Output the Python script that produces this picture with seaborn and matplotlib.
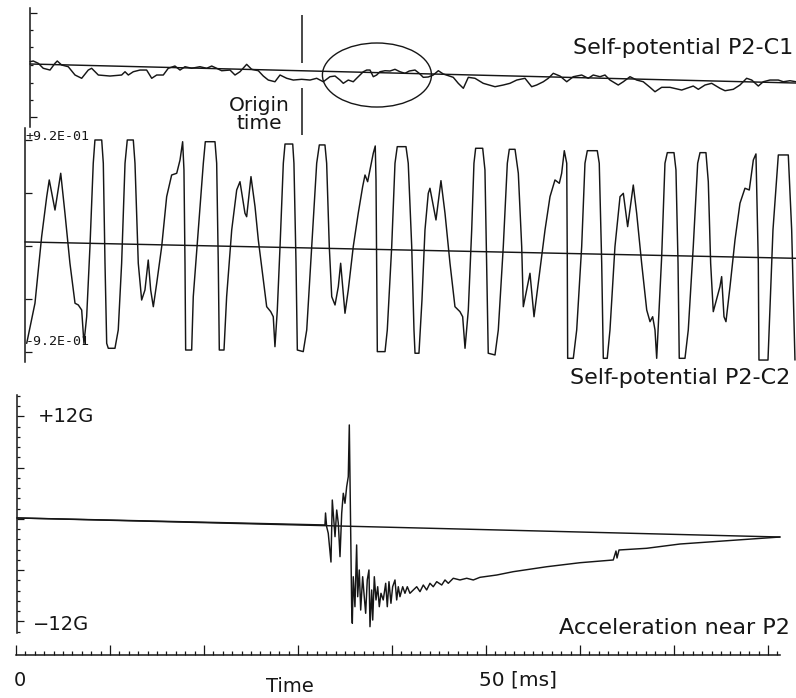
import numpy as np
import pandas as pd
import matplotlib
matplotlib.use("Agg")
import matplotlib.pyplot as plt
from matplotlib.patches import Ellipse
from matplotlib.ticker import MultipleLocator, FixedLocator
import seaborn as sns

# --- Werte (Zeit in ms) ---

# Self-potential P2-C1 (obere Spur)
P1_T = [1.49, 1.84, 2.37, 2.90, 3.62, 4.15, 4.39, 4.86, 5.56, 6.28, 6.99, 7.69, 8.05, 8.76,
        10.00, 11.24, 11.60, 11.95, 12.48, 13.19, 13.90, 14.44, 14.97, 15.67, 16.20, 16.91,
        17.45, 17.98, 18.69, 19.57, 20.29, 20.82, 21.35, 21.88, 22.77, 23.30, 23.83, 24.54,
        25.07, 25.78, 26.31, 26.84, 27.55, 28.09, 28.80, 29.50, 30.39, 31.28, 31.99, 32.69,
        33.40, 33.94, 34.47, 34.82, 35.35, 35.88, 36.24, 36.95, 37.31, 37.66, 38.01, 38.37,
        38.72, 39.26, 39.79, 40.32, 40.85, 41.38, 41.84, 42.45, 42.90, 43.33, 43.86, 44.39,
        44.93, 45.46, 46.52, 47.05, 47.59, 48.12, 48.83, 49.71, 50.96, 51.84, 52.55, 53.27,
        54.15, 54.86, 55.39, 56.10, 56.63, 57.16, 57.87, 58.59, 59.29, 60.18, 60.88, 61.41,
        62.13, 62.66, 63.19, 64.07, 64.61, 65.32, 66.03, 66.73, 67.45, 67.98, 68.69, 69.57,
        70.82, 72.05, 72.59, 73.30, 74.01, 74.89, 75.43, 76.31, 77.02, 77.73, 78.27, 78.97,
        79.50, 80.21, 81.10, 81.63, 82.34, 82.98]
P1_V = [0.058, 0.071, 0.030, -0.058, -0.089, 0.030, 0.071, 0.000, -0.030, -0.177, -0.235,
        -0.089, -0.058, -0.177, -0.195, -0.177, -0.119, -0.177, -0.119, -0.089, -0.089,
        -0.235, -0.177, -0.177, -0.058, -0.018, -0.089, -0.030, -0.058, -0.030, -0.058,
        -0.018, -0.058, -0.101, -0.089, -0.177, -0.119, 0.012, -0.076, -0.101, -0.195,
        -0.266, -0.296, -0.177, -0.235, -0.266, -0.253, -0.266, -0.235, -0.296, -0.207,
        -0.195, -0.266, -0.324, -0.266, -0.296, -0.235, -0.119, -0.089, -0.089, -0.207,
        -0.177, -0.119, -0.101, -0.106, -0.076, -0.119, -0.147, -0.106, -0.089, -0.147,
        -0.218, -0.212, -0.177, -0.101, -0.159, -0.218, -0.324, -0.412, -0.218, -0.235,
        -0.324, -0.384, -0.354, -0.324, -0.266, -0.235, -0.384, -0.354, -0.296, -0.235,
        -0.147, -0.195, -0.296, -0.207, -0.177, -0.235, -0.177, -0.207, -0.177, -0.266,
        -0.354, -0.296, -0.207, -0.266, -0.296, -0.395, -0.473, -0.395, -0.395, -0.443,
        -0.372, -0.430, -0.354, -0.324, -0.412, -0.455, -0.430, -0.354, -0.235, -0.266,
        -0.372, -0.296, -0.266, -0.266, -0.296, -0.278, -0.296]
P1_BASE_T = [1.49, 82.98]
P1_BASE_V = [0.018, -0.319]
P1_TICKS = [-0.92, -0.62, -0.31, 0.0, 0.31, 0.62, 0.92]

# Self-potential P2-C2 (mittlere Spur, Vollausschlag +-0.92)
P2_T = [1.14, 2.02, 2.73, 3.27, 3.54, 4.15, 4.76, 5.21, 5.74, 6.28, 6.63, 6.99, 7.23, 7.52,
        7.87, 8.22, 8.40, 9.12, 9.29, 9.47, 9.65, 9.82, 10.53, 10.88, 11.24, 11.60, 11.84,
        12.48, 12.66, 13.01, 13.37, 13.72, 14.07, 14.33, 14.61, 14.97, 15.50, 16.03, 16.56,
        17.10, 17.45, 17.73, 17.87, 17.98, 18.05, 18.69, 18.86, 19.39, 19.93, 20.14, 21.17,
        21.35, 21.52, 21.63, 22.13, 22.41, 22.95, 23.48, 23.83, 24.36, 24.54, 25.00, 25.43,
        25.78, 26.31, 26.67, 27.10, 27.37, 27.55, 27.80, 28.09, 28.44, 28.62, 29.44, 29.57,
        29.79, 29.93, 30.56, 30.93, 31.46, 31.99, 32.27, 32.87, 33.05, 33.33, 33.59, 33.94,
        34.29, 34.54, 34.76, 35.00, 35.35, 35.88, 36.41, 36.88, 37.13, 37.41, 37.66, 38.01,
        38.22, 38.30, 38.37, 38.44, 39.26, 39.50, 39.97, 40.32, 40.56, 41.49, 41.73, 42.10,
        42.34, 42.45, 42.87, 43.19, 43.51, 43.86, 44.04, 44.68, 45.21, 45.64, 46.17, 46.70,
        47.23, 47.52, 47.77, 48.12, 48.48, 48.72, 48.90, 49.65, 49.89, 50.07, 50.24, 50.96,
        51.31, 51.84, 52.27, 52.48, 53.09, 53.44, 53.80, 53.97, 54.68, 55.11, 55.74, 56.28,
        56.81, 57.34, 57.80, 58.05, 58.33, 58.59, 58.65, 58.69, 59.29, 59.65, 60.18, 60.53,
        60.78, 61.84, 62.05, 62.31, 62.48, 62.90, 63.19, 63.72, 64.26, 64.61, 65.07, 65.67,
        66.03, 66.56, 67.10, 67.45, 67.73, 67.98, 68.16, 68.69, 69.04, 69.29, 70.00, 70.21,
        70.43, 70.56, 71.17, 71.52, 72.05, 72.52, 72.77, 73.40, 73.65, 73.90, 74.18, 74.89,
        75.07, 75.32, 75.53, 75.96, 76.49, 77.02, 77.55, 78.01, 78.44, 78.72, 78.97, 79.04,
        80.00, 80.53, 81.10, 82.16, 82.52, 82.87]
P2_V = [-0.845, -0.497, 0.081, 0.428, 0.573, 0.312, 0.631, 0.284, -0.150, -0.497, -0.512,
        -0.556, -0.845, -0.614, -0.006, 0.718, 0.920, 0.920, 0.718, -0.150, -0.845, -0.888,
        -0.888, -0.729, -0.150, 0.718, 0.920, 0.920, 0.718, -0.150, -0.469, -0.382, -0.122,
        -0.382, -0.527, -0.324, -0.006, 0.428, 0.616, 0.631, 0.746, 0.905, 0.660, -0.150,
        -0.903, -0.903, -0.440, 0.139, 0.718, 0.905, 0.905, 0.718, -0.150, -0.903, -0.903,
        -0.440, 0.139, 0.486, 0.558, 0.284, 0.254, 0.602, 0.341, 0.052, -0.295, -0.527,
        -0.570, -0.614, -0.874, -0.556, -0.006, 0.718, 0.885, 0.885, 0.718, -0.150, -0.903,
        -0.917, -0.729, -0.006, 0.718, 0.877, 0.877, 0.718, -0.006, -0.440, -0.512, -0.353,
        -0.150, -0.353, -0.584, -0.382, -0.006, 0.284, 0.515, 0.616, 0.558, 0.660, 0.805,
        0.868, 0.573, -0.150, -0.917, -0.917, -0.729, -0.006, 0.718, 0.862, 0.862, 0.718,
        -0.006, -0.729, -0.931, -0.931, -0.469, 0.139, 0.457, 0.501, 0.226, 0.567, 0.284,
        -0.150, -0.527, -0.570, -0.614, -0.888, -0.556, 0.139, 0.718, 0.848, 0.848, 0.660,
        -0.150, -0.931, -0.946, -0.729, -0.006, 0.718, 0.839, 0.839, 0.631, -0.006, -0.527,
        -0.237, -0.614, -0.208, 0.139, 0.428, 0.573, 0.544, 0.631, 0.827, 0.718, -0.150,
        -0.975, -0.975, -0.729, -0.006, 0.718, 0.827, 0.827, 0.718, -0.150, -0.975, -0.975,
        -0.729, -0.006, 0.428, 0.457, 0.168, 0.529, 0.284, -0.150, -0.556, -0.657, -0.614,
        -0.729, -0.975, -0.093, 0.718, 0.810, 0.810, 0.660, -0.150, -0.975, -0.975, -0.729,
        -0.006, 0.718, 0.810, 0.810, 0.558, -0.150, -0.570, -0.353, -0.266, -0.614, -0.657,
        -0.353, 0.052, 0.371, 0.501, 0.486, 0.746, 0.799, -0.150, -0.990, -0.990, 0.139,
        0.790, 0.790, 0.139, -0.990]
P2_BASE_T = [0.96, 82.98]
P2_BASE_V = [0.035, -0.107]
P2_TICKS = [-0.92, -0.46, 0.0, 0.46, 0.92]
P2_TICKLABELS = ["-9.2E-01", "+9.2E-01"]

# Acceleration near P2 (untere Spur, in G)
ACC_T = [0.11, 32.87, 32.93, 33.05, 33.22, 33.51, 33.65, 33.94, 34.12, 34.29, 34.47, 34.65,
         34.82, 35.00, 35.18, 35.35, 35.46, 35.71, 35.78, 35.88, 36.06, 36.24, 36.35, 36.52,
         36.67, 36.88, 37.02, 37.20, 37.37, 37.55, 37.66, 37.84, 37.95, 38.12, 38.30, 38.48,
         38.65, 38.83, 39.07, 39.33, 39.50, 39.68, 39.89, 40.07, 40.32, 40.50, 40.67, 40.85,
         41.14, 41.38, 41.63, 41.91, 42.27, 42.63, 42.98, 43.33, 43.69, 44.04, 44.39, 44.76,
         45.29, 45.64, 45.99, 46.52, 47.23, 47.95, 48.65, 49.36, 51.14, 52.90, 56.46, 60.00,
         63.54, 63.83, 63.94, 64.15, 67.10, 70.64, 81.28]
ACC_G = [0.12, -0.70, 0.70, -0.90, -1.67, -5.04, 2.22, -2.07, 1.05, -0.50, -4.41, 0.67,
         3.01, 1.84, 3.78, 4.95, 11.01, -10.27, -12.21, -6.76, -10.27, -3.04, -9.10, -5.97,
         -10.66, -6.76, -8.70, -11.04, -7.14, -5.97, -12.61, -8.31, -11.83, -6.76, -9.48, -7.93,
         -10.27, -8.70, -9.48, -7.53, -10.27, -7.34, -9.87, -7.93, -7.14, -9.48, -7.93, -9.10,
         -7.93, -8.70, -7.93, -8.70, -8.31, -7.93, -8.51, -7.73, -8.31, -7.53, -7.93, -7.34,
         -7.73, -7.14, -7.53, -6.94, -7.14, -6.94, -7.14, -6.83, -6.56, -6.17, -5.59, -5.12,
         -4.80, -3.75, -4.57, -3.63, -3.43, -2.93, -2.11]
ACC_BASE_T = [0.11, 81.28]
ACC_BASE_G = [0.12, -2.11]
ACC_TICKS = [-12, -6, 0, 6, 12]

ORIGIN_T = 30.43          # Origin time
CIRCLE_T, CIRCLE_V = 38.40, -0.177
T_AXIS_END = 81.3
T_MAJOR = list(range(0, 81, 10))
T_MINOR = list(range(0, 82))

# --- Stil ---
sns.set_theme(style="white")
plt.rcParams['font.family'] = ['DejaVu Sans']
INK = '#161616'
LW = 1.05
XLIM = (-1.70, 82.98)
FIG_H = 698.0


def panel(fig, top, bottom):
    # Achse ueber volle Breite, oben/unten in Pixeln
    return fig.add_axes([0, (FIG_H - bottom) / FIG_H, 1, (bottom - top) / FIG_H], facecolor='none')


def style_panel(ax, spine_x, ylim, bounds):
    ax.set_xlim(*XLIM)
    ax.set_ylim(*ylim)
    for s in ['top', 'right', 'bottom']:
        ax.spines[s].set_visible(False)
    sp = ax.spines['left']
    sp.set_position(('data', spine_x))
    sp.set_bounds(*bounds)
    sp.set_color(INK)
    sp.set_linewidth(1.1)
    ax.xaxis.set_visible(False)
    ax.tick_params(axis='y', which='both', direction='in', left=True, labelleft=False,
                   color=INK, width=0.9)
    ax.tick_params(axis='y', which='major', length=5)
    ax.tick_params(axis='y', which='minor', length=2.5)
    ax.set_xlabel('')
    ax.set_ylabel('')


def trace(ax, t, v):
    sns.lineplot(x=t, y=v, ax=ax, sort=False, estimator=None, color=INK, lw=LW)


fig = plt.figure(figsize=(7.96, 6.98), dpi=100)

# 1. Self-potential P2-C1
ax1 = panel(fig, 8, 137)
trace(ax1, P1_BASE_T, P1_BASE_V)
trace(ax1, P1_T, P1_V)
style_panel(ax1, 1.49, (-1.274, 1.009), (-1.097, 1.009))
ax1.yaxis.set_major_locator(FixedLocator([P1_TICKS[0], P1_TICKS[-1]]))
ax1.yaxis.set_minor_locator(FixedLocator(P1_TICKS[1:-1]))
ax1.vlines(ORIGIN_T, 0.035, 0.885, color=INK, lw=1.1)
ax1.vlines(ORIGIN_T, -1.24, -0.407, color=INK, lw=1.1)
ax1.add_patch(Ellipse((CIRCLE_T, CIRCLE_V), width=11.6, height=1.133, fill=False, ec=INK, lw=1.0))
ax1.text(25.85, -0.87, "Origin\ntime", ha='center', va='center', fontsize=14.5,
         linespacing=0.95, color=INK)
ax1.text(82.66, 0.30, "Self-potential P2-C1", ha='right', va='center', fontsize=16, color=INK)

# 2. Self-potential P2-C2
ax2 = panel(fig, 128, 362)
trace(ax2, P2_BASE_T, P2_BASE_V)
trace(ax2, P2_T, P2_V)
style_panel(ax2, 0.96, (-1.007, 1.024), (-1.007, 1.024))
ax2.yaxis.set_major_locator(FixedLocator(P2_TICKS))
ax2.text(1.0, 0.95, P2_TICKLABELS[1], ha='left', va='center', fontsize=9.5,
         family='DejaVu Sans Mono', color=INK)
ax2.text(1.0, -0.83, P2_TICKLABELS[0], ha='left', va='center', fontsize=9.5,
         family='DejaVu Sans Mono', color=INK)
ax2.text(82.34, -1.146, "Self-potential P2-C2", ha='right', va='center', fontsize=16, color=INK)

# 3. Acceleration near P2
ax3 = panel(fig, 393, 636)
trace(ax3, ACC_BASE_T, ACC_BASE_G)
trace(ax3, ACC_T, ACC_G)
style_panel(ax3, 0.11, (-13.70, 14.75), (-13.35, 14.52))
ax3.yaxis.set_major_locator(FixedLocator(ACC_TICKS))
ax3.yaxis.set_minor_locator(MultipleLocator(1.2))
ax3.text(2.34, 12, "+12G", ha='left', va='center', fontsize=14, color=INK)
ax3.text(1.81, -12.3, "\u221212G", ha='left', va='center', fontsize=14, color=INK)
ax3.text(82.34, -12.76, "Acceleration near P2", ha='right', va='center', fontsize=16, color=INK)

# 4. Zeitachse
ax4 = panel(fig, 635, 655)
ax4.set_xlim(*XLIM)
ax4.set_ylim(0, 1)
for s in ['top', 'right', 'left']:
    ax4.spines[s].set_visible(False)
ax4.spines['bottom'].set_bounds(0, T_AXIS_END)
ax4.spines['bottom'].set_color(INK)
ax4.spines['bottom'].set_linewidth(1.1)
ax4.yaxis.set_visible(False)
ax4.xaxis.set_major_locator(FixedLocator(T_MAJOR))
ax4.xaxis.set_minor_locator(FixedLocator(T_MINOR))
ax4.tick_params(axis='x', which='both', direction='in', bottom=True, labelbottom=False,
                color=INK, width=0.9)
ax4.tick_params(axis='x', which='major', length=7)
ax4.tick_params(axis='x', which='minor', length=3)
ax4.text(0.4, -1.25, "0", ha='center', va='center', fontsize=14, color=INK)
ax4.text(29.15, -1.55, "Time", ha='center', va='center', fontsize=14, color=INK)
ax4.text(49.26, -1.25, "50 [ms]", ha='left', va='center', fontsize=14.5, color=INK)

fig.savefig("out.png", dpi=100, facecolor='white')
